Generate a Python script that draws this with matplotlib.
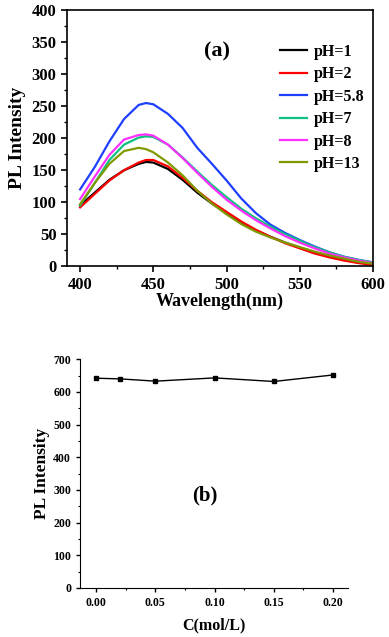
import matplotlib
matplotlib.use("Agg")
import matplotlib.pyplot as plt
from matplotlib.ticker import MultipleLocator

plt.rcParams['font.family'] = ['Liberation Serif', 'DejaVu Serif']
plt.rcParams['font.weight'] = 'bold'

# ---- panel (a) data ----
wavelength = [400, 410, 420, 430, 440, 445, 450, 460, 470, 480, 490, 500,
              510, 520, 530, 540, 550, 560, 570, 580, 590, 600]
ph1 = [95, 115, 135, 150, 160, 163, 162, 152, 135, 115, 98, 83,
       68, 56, 46, 37, 29, 22, 15, 10, 6, 3]
ph2 = [92, 113, 134, 150, 162, 166, 166, 156, 138, 118, 100, 85,
       70, 57, 46, 36, 28, 20, 14, 9, 5, 2]
ph58 = [120, 155, 195, 230, 252, 255, 253, 238, 216, 185, 160, 134,
        106, 83, 65, 52, 41, 31, 22, 15, 10, 6]
ph7 = [95, 130, 166, 190, 201, 203, 202, 190, 170, 148, 127, 108,
       90, 75, 62, 50, 40, 30, 22, 15, 10, 6]
ph8 = [105, 140, 174, 198, 205, 206, 204, 190, 169, 146, 124, 104,
       87, 72, 59, 47, 37, 28, 20, 14, 9, 5]
ph13 = [97, 130, 160, 180, 185, 183, 178, 162, 142, 118, 98, 81,
        66, 54, 45, 37, 30, 23, 17, 12, 7, 4]
series = [("pH=1", ph1, "#000000"), ("pH=2", ph2, "#ff0000"),
          ("pH=5.8", ph58, "#1f3fff"), ("pH=7", ph7, "#10c080"),
          ("pH=8", ph8, "#ff30ff"), ("pH=13", ph13, "#7f9a00")]

# ---- panel (b) data ----
conc = [0.00, 0.02, 0.05, 0.10, 0.15, 0.20]
intensity = [642, 640, 633, 643, 632, 652]
conc_ticks = [0.00, 0.05, 0.10, 0.15, 0.20]
conc_labels = ["0.00", "0.05", "0.10", "0.15", "0.20"]

fig = plt.figure(figsize=(3.89, 6.37), dpi=100)

# Panel (a)
ax1 = fig.add_axes([0.172, 0.582, 0.787, 0.402])
for lab, ys, col in series:
    ax1.plot(wavelength, ys, color=col, lw=1.6, label=lab)
ax1.set_xlim(391, 600)
ax1.set_ylim(0, 400)
ax1.set_xticks([400, 450, 500, 550, 600])
ax1.set_yticks(range(0, 401, 50))
ax1.xaxis.set_minor_locator(MultipleLocator(25))
ax1.yaxis.set_minor_locator(MultipleLocator(25))
ax1.tick_params(axis='both', which='major', labelsize=12, length=4, width=1.2)
ax1.tick_params(axis='both', which='minor', length=2, width=1)
for lbl in ax1.get_xticklabels() + ax1.get_yticklabels():
    lbl.set_fontweight('bold')
for s in ax1.spines.values():
    s.set_linewidth(1.2)
ax1.set_xlabel("Wavelength(nm)", fontsize=13, fontweight='bold', labelpad=0)
ax1.set_ylabel("PL Intensity", fontsize=14, fontweight='bold', labelpad=4)
ax1.text(0.49, 0.84, "(a)", transform=ax1.transAxes, fontsize=16,
         fontweight='bold', ha='center', va='center')
leg = ax1.legend(loc='upper left', bbox_to_anchor=(0.696, 0.868), frameon=False,
                 fontsize=11.5, handlelength=1.7, handletextpad=0.4,
                 labelspacing=0.40, borderaxespad=0, borderpad=0)
for t in leg.get_texts():
    t.set_fontweight('bold')

# Panel (b)
ax2 = fig.add_axes([0.206, 0.077, 0.689, 0.359])
ax2.plot(conc, intensity, color='black', lw=1, marker='s', markersize=3.5)
ax2.set_xlim(-0.0135, 0.2127)
ax2.set_ylim(0, 700)
ax2.set_xticks(conc_ticks)
ax2.set_xticklabels(conc_labels)
ax2.set_yticks(range(0, 701, 100))
ax2.xaxis.set_minor_locator(MultipleLocator(0.025))
ax2.yaxis.set_minor_locator(MultipleLocator(50))
ax2.tick_params(axis='both', which='major', labelsize=8.5, length=3, width=1)
ax2.tick_params(axis='both', which='minor', length=1.5, width=0.8)
for lbl in ax2.get_xticklabels() + ax2.get_yticklabels():
    lbl.set_fontweight('bold')
ax2.spines['top'].set_visible(False)
ax2.spines['right'].set_visible(False)
ax2.set_xlabel("C(mol/L)", fontsize=11.5, fontweight='bold', labelpad=6)
ax2.set_ylabel("PL Intensity", fontsize=12.5, fontweight='bold', labelpad=2)
ax2.text(0.466, 0.406, "(b)", transform=ax2.transAxes, fontsize=15,
         fontweight='bold', ha='center', va='center')

fig.savefig("out.png", dpi=100)
